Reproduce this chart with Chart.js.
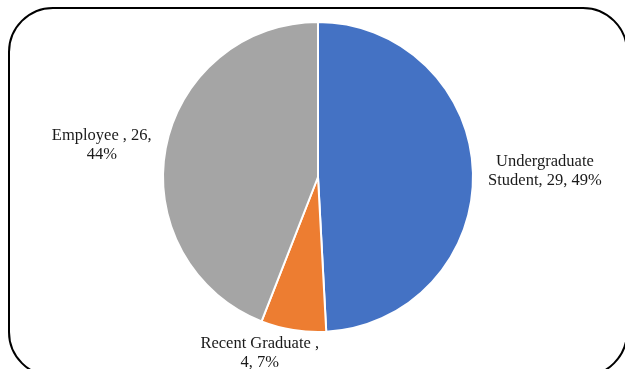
<!DOCTYPE html>
<html>
<head>
<meta charset="utf-8">
<title>Respondents</title>
<script src="https://cdn.jsdelivr.net/npm/chart.js@4.4.0/dist/chart.umd.min.js"></script>
<style>
    html, body { margin: 0; padding: 0; background: #fff; }
    #wrap { position: relative; width: 625px; height: 369px; }
</style>
</head>
<body>
<div id="wrap"><canvas id="myChart" width="625" height="369"></canvas></div>
<script>
// Répartition des répondants
var categories = ["Undergraduate Student", "Recent Graduate ", "Employee "];
var counts = [29, 4, 26];
var colors = ["#4472C4", "#ED7D31", "#A5A5A5"];

var total = counts.reduce(function(a, b) { return a + b; }, 0);
var percents = counts.map(function(v) {
    return Math.round(v / total * 100);
});
var labelTexts = categories.map(function(c, i) {
    return c + ", " + counts[i] + ", " + percents[i] + "%";
});

// Cadre arrondi autour du graphique
var framePlugin = {
    id: "frame",
    beforeDraw: function(chart) {
        var ctx = chart.ctx;
        var x0 = 9, y0 = 8, x1 = 627, y1 = 376, r = 44;
        ctx.save();
        ctx.beginPath();
        ctx.moveTo(x0 + r, y0);
        ctx.lineTo(x1 - r, y0);
        ctx.arc(x1 - r, y0 + r, r, -Math.PI / 2, 0);
        ctx.lineTo(x1, y1 - r);
        ctx.arc(x1 - r, y1 - r, r, 0, Math.PI / 2);
        ctx.lineTo(x0 + r, y1);
        ctx.arc(x0 + r, y1 - r, r, Math.PI / 2, Math.PI);
        ctx.lineTo(x0, y0 + r);
        ctx.arc(x0 + r, y0 + r, r, Math.PI, Math.PI * 1.5);
        ctx.closePath();
        ctx.lineWidth = 2;
        ctx.strokeStyle = "#000";
        ctx.stroke();
        ctx.restore();
    }
};

// Étiquettes à l'extérieur des parts
var sliceLabels = {
    id: "sliceLabels",
    afterDatasetsDraw: function(chart, args, opts) {
        var ctx = chart.ctx;
        var meta = chart.getDatasetMeta(0);
        ctx.save();
        ctx.font = opts.font;
        ctx.fillStyle = opts.color;
        ctx.textAlign = "center";
        ctx.textBaseline = "middle";
        meta.data.forEach(function(arc, i) {
            var p = arc.getProps(["x", "y", "startAngle", "endAngle", "outerRadius"], true);
            var mid = (p.startAngle + p.endAngle) / 2;
            var place = opts.placement[i];
            var d = p.outerRadius + place.gap;
            var cx = p.x + Math.cos(mid) * d + place.dx;
            var cy = p.y + Math.sin(mid) * d + place.dy;

            // coupe le texte en lignes
            var words = labelTexts[i].split(" ");
            var lines = [];
            var line = "";
            words.forEach(function(w) {
                var test = line ? line + " " + w : w;
                if (line && ctx.measureText(test).width > opts.maxWidth) {
                    lines.push(line);
                    line = w;
                } else {
                    line = test;
                }
            });
            if (line) lines.push(line);

            var top = cy - (lines.length - 1) * opts.lineHeight / 2;
            lines.forEach(function(l, k) {
                ctx.fillText(l, cx, top + k * opts.lineHeight);
            });
        });
        ctx.restore();
    }
};

var ctx = document.getElementById("myChart").getContext("2d");
var myChart = new Chart(ctx, {
    type: "pie",
    data: {
        labels: categories,
        datasets: [
            {
                data: counts,
                backgroundColor: colors,
                borderColor: "#ffffff",
                borderWidth: 2
            }
        ]
    },
    options: {
        responsive: false,
        animation: false,
        events: [],
        radius: 155,
        layout: {
            padding: { left: 20, right: 9, top: 10, bottom: 25 }
        },
        plugins: {
            legend: { display: false },
            tooltip: { enabled: false },
            sliceLabels: {
                font: "16.5px 'Liberation Serif', 'Times New Roman', serif",
                color: "#1a1a1a",
                lineHeight: 19,
                maxWidth: 128,
                placement: [
                    { gap: 72, dx: 0, dy: 0 },
                    { gap: 29, dx: -29, dy: -5 },
                    { gap: 63, dx: -2, dy: 9 }
                ]
            }
        }
    },
    plugins: [framePlugin, sliceLabels]
});
</script>
</body>
</html>
